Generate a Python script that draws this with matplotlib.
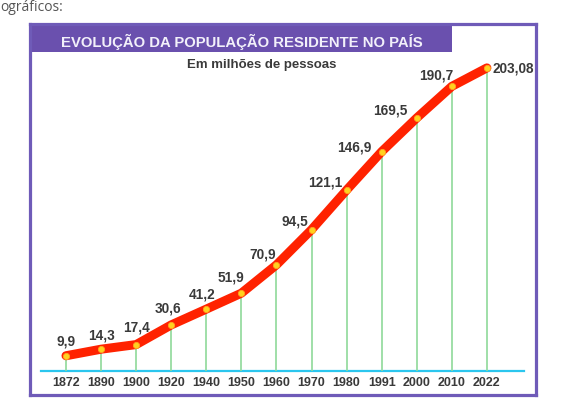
import matplotlib
matplotlib.use('Agg')
from matplotlib import pyplot as plt
from matplotlib.patches import Rectangle

years = ['1872', '1890', '1900', '1920', '1940', '1950', '1960',
         '1970', '1980', '1991', '2000', '2010', '2022']
population = [9.9, 14.3, 17.4, 30.6, 41.2, 51.9, 70.9,
              94.5, 121.1, 146.9, 169.5, 190.7, 203.08]
value_labels = ['9,9', '14,3', '17,4', '30,6', '41,2', '51,9', '70,9',
                '94,5', '121,1', '146,9', '169,5', '190,7', '203,08']

# label offsets in pixels (dx, dy), purely layout
label_offsets = [(0, 15), (0, 15), (0, 18), (-3, 17), (-4, 16), (-10, 17),
                 (-14, 11), (-17, 9), (-21, 9), (-27, 5), (-26, 8),
                 (-16, 12), (6, 0)]

FONT = 'Liberation Sans'
TEXT = '#3a3a3a'
PURPLE = '#6a50ae'

fig = plt.figure(figsize=(5.73, 4.14), dpi=100)
fig.text(0.0, (414 - 11) / 414, 'ográficos:', family='Open Sans',
         fontsize=10, color='#555555', va='baseline', ha='left')

ax = fig.add_axes([30 / 573, 18 / 414, 506 / 573, 371 / 414])
ax.set_xlim(-1.026, 13.40)
ax.set_ylim(-16.44, 232.55)
ax.set_xticks([])
ax.set_yticks([])
for spine in ax.spines.values():
    spine.set_color('#6f5bb8')
    spine.set_linewidth(2.3)

# title band
ax.add_patch(Rectangle((0, 0.9237), 0.834, 0.0763, transform=ax.transAxes,
                       facecolor=PURPLE, edgecolor='none', zorder=1))
ax.text(0.418, 0.955, 'EVOLUÇÃO DA POPULAÇÃO RESIDENTE NO PAÍS',
        transform=ax.transAxes, ha='center', va='center', family=FONT,
        fontweight='bold', fontsize=10.7, color='#f2f0fa', zorder=2)
ax.text(0.458, 0.892, 'Em milhões de pessoas', transform=ax.transAxes,
        ha='center', va='center', family=FONT, fontweight='bold',
        fontsize=9.5, color=TEXT)

x = list(range(len(years)))

ax.axhline(0, xmin=0.021, xmax=0.976, color='#2bc6ee', lw=1.6, zorder=2)
ax.vlines(x, 0, population, color='#8fd99a', lw=1.2, zorder=2)
ax.plot(x, population, color='#ff2200', lw=6.5, solid_capstyle='round',
        solid_joinstyle='round', zorder=3)
ax.plot(x, population, 'o', color='#ffd21f', markeredgecolor='#ffa21f',
        markersize=4.5, markeredgewidth=0.6, zorder=4)

for i, (val, lab) in enumerate(zip(population, value_labels)):
    dx, dy = label_offsets[i]
    ha = 'left' if i == len(years) - 1 else 'center'
    ax.annotate(lab, (i, val), xytext=(dx * 0.72, dy * 0.72),
                textcoords='offset points', ha=ha, va='center',
                family=FONT, fontweight='bold', fontsize=9.8, color=TEXT,
                zorder=5)

for i, yr in enumerate(years):
    ax.text(i, -7.5, yr, ha='center', va='center', family=FONT,
            fontweight='bold', fontsize=9, color=TEXT)

fig.savefig('out.png', dpi=100)
